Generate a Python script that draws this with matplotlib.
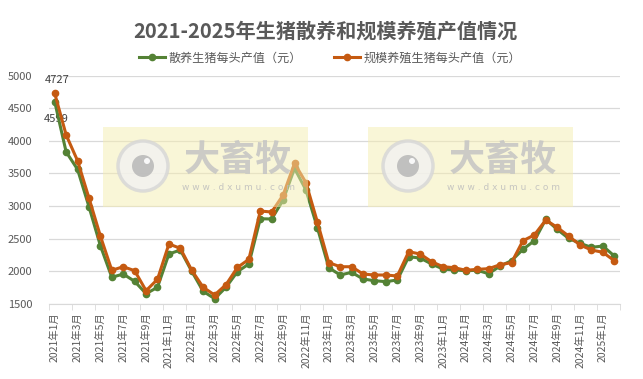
import numpy as np
import matplotlib.pyplot as plt
from matplotlib.patches import Rectangle, Circle

plt.rcParams['font.family'] = ['Noto Sans CJK SC', 'DejaVu Sans']

# monthly labels 2021年1月 .. 2025年2月
months = [f"{y}年{m}月" for y in range(2021, 2026) for m in range(1, 13)][:50]

# 散养生猪每头产值（元）
sanyang = [4599, 3830, 3562, 2990, 2393, 1909, 1959, 1847, 1658, 1756,
           2266, 2327, 2001, 1694, 1582, 1756, 1995, 2113, 2806, 2802,
           3093, 3578, 3246, 2669, 2056, 1944, 1985, 1883, 1857, 1842,
           1868, 2224, 2204, 2113, 2036, 2021, 2010, 2016, 1964, 2082,
           2163, 2337, 2469, 2797, 2644, 2505, 2429, 2368, 2388, 2235]

# 规模养殖生猪每头产值（元）
guimo = [4727, 4090, 3694, 3123, 2541, 2016, 2071, 2010, 1704, 1878,
         2419, 2353, 2016, 1756, 1638, 1796, 2060, 2184, 2924, 2909,
         3169, 3655, 3358, 2756, 2133, 2071, 2071, 1959, 1944, 1944,
         1929, 2301, 2266, 2148, 2071, 2056, 2016, 2031, 2041, 2102,
         2133, 2469, 2557, 2786, 2674, 2541, 2404, 2327, 2292, 2163]

W, H = 643, 379
fig = plt.figure(figsize=(W / 100, H / 100), dpi=100)
ax = fig.add_axes([49 / W, 1 - 304 / H, 571 / W, 228.5 / H])

def px(x, y):
    return x / W, 1 - y / H

x = np.arange(len(months))
green = '#548235'
orange = '#C55A11'
grey = '#595959'

ax.plot(x, sanyang, color=green, lw=2.2, marker='o', ms=4.5, zorder=4,
        label='散养生猪每头产值（元）')
ax.plot(x, guimo, color=orange, lw=2.2, marker='o', ms=4.5, zorder=5,
        label='规模养殖生猪每头产值（元）')

ax.annotate(str(guimo[0]), (x[0], guimo[0]), xytext=(2, 6), textcoords='offset points',
            ha='center', va='bottom', fontsize=8, color='#404040')
ax.annotate(str(sanyang[0]), (x[0], sanyang[0]), xytext=(1, -9), textcoords='offset points',
            ha='center', va='top', fontsize=8, color='#404040')

ax.set_xlim(-0.5, len(months) - 0.5)
ax.set_ylim(1500, 5000)
ax.set_yticks(np.arange(1500, 5001, 500))
ax.yaxis.grid(True, color='#d9d9d9', lw=0.9)
ax.set_axisbelow(True)
for s in ['top', 'right', 'left']:
    ax.spines[s].set_visible(False)
ax.spines['bottom'].set_color('#d9d9d9')
ax.tick_params(axis='y', length=0, labelsize=8, labelcolor=grey, pad=12)

ax.set_xticks(x[::2])
ax.set_xticklabels(months[::2], rotation=90, fontsize=7.5, color=grey)
ax.set_xticks(np.arange(-0.5, len(months), 2), minor=True)
ax.tick_params(axis='x', which='major', length=0, pad=6)
ax.tick_params(axis='x', which='minor', length=4, color='#d9d9d9')

fig.text(*px(325, 31), '2021-2025年生猪散养和规模养殖产值情况', ha='center', va='center',
         fontsize=14.5, fontweight='bold', color=grey)
fig.legend(loc='center', bbox_to_anchor=px(330, 58), ncol=2, frameon=False,
           fontsize=8.7, labelcolor=grey, handlelength=2.2, columnspacing=2.6,
           handletextpad=0.3)

# watermarks
for x0 in (103, 368):
    fig.patches.append(Rectangle(px(x0, 207), 205 / W, 80 / H, transform=fig.transFigure,
                                 facecolor='#f5eeb0', alpha=0.5, edgecolor='none', zorder=3))
    fig.patches.append(Circle((x0 + 40, H - 166), 25, transform=None, facecolor='#f2f2f2',
                              edgecolor='#d6d6d6', lw=2.5, alpha=0.8, zorder=3))
    fig.patches.append(Circle((x0 + 40, H - 166), 11, transform=None, facecolor='#b4b4b4',
                              edgecolor='none', alpha=0.8, zorder=3))
    fig.patches.append(Circle((x0 + 44, H - 161), 3, transform=None, facecolor='white',
                              edgecolor='none', alpha=0.9, zorder=3))
    fig.text(*px(x0 + 135, 160), '大畜牧', ha='center', va='center', fontsize=26,
             fontweight='bold', color='#c4c4c4', alpha=0.85, zorder=3)
    fig.text(*px(x0 + 135, 188), 'w w w . d x u m u . c o m', ha='center', va='center',
             fontsize=6.5, color='#bdbdbd', alpha=0.85, zorder=3, family='DejaVu Sans')

fig.savefig('out.png', dpi=100)
